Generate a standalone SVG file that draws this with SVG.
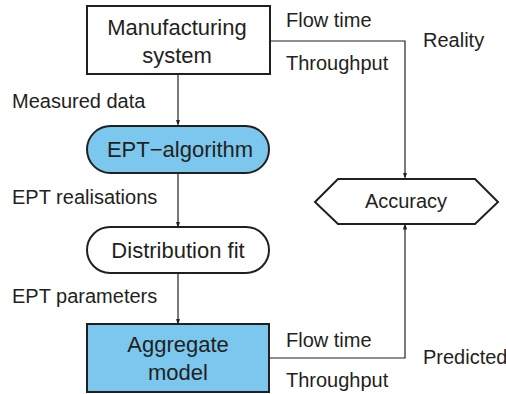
<svg xmlns="http://www.w3.org/2000/svg" width="506" height="394" viewBox="0 0 506 394">
<defs>
<style>
.node{stroke:#231F20;stroke-width:2;}
.plain{fill:#FFFFFF;}
.blue{fill:#7BC7EE;}
.t{font-family:"Liberation Sans",Arial,sans-serif;fill:#231F20;}
.main{font-size:22px;text-anchor:middle;}
.lab{font-size:20px;}
.conn{fill:none;stroke:#231F20;stroke-width:1.2;}
</style>
<marker id="ah" markerWidth="7" markerHeight="12" refX="6" refY="3.5" orient="auto" markerUnits="userSpaceOnUse" viewBox="0 0 12 7">
<path d="M0,0 L12,3.5 L0,7 Z" fill="#231F20"/>
</marker>
</defs>
<rect width="506" height="394" fill="#FFFFFF"/>
<g id="connectors">
<line class="conn" x1="178" y1="74" x2="178" y2="123" marker-end="url(#ah)"/>
<line class="conn" x1="178" y1="173" x2="178" y2="225" marker-end="url(#ah)"/>
<line class="conn" x1="178" y1="273" x2="178" y2="322" marker-end="url(#ah)"/>
<polyline class="conn" points="270,41 405,41 405,176" marker-end="url(#ah)"/>
<polyline class="conn" points="269,358 405,358 405,226" marker-end="url(#ah)"/>
</g>
<g id="labels">
<text class="t lab" x="12" y="108">Measured data</text>
<text class="t lab" x="12" y="204">EPT realisations</text>
<text class="t lab" x="12" y="303">EPT parameters</text>
<text class="t lab" x="286" y="27">Flow time</text>
<text class="t lab" x="286" y="70">Throughput</text>
<text class="t lab" x="423" y="47">Reality</text>
<text class="t lab" x="286" y="347">Flow time</text>
<text class="t lab" x="286" y="387">Throughput</text>
<text class="t lab" x="423" y="364">Predicted</text>
</g>
<g id="manufacturing-system">
<rect class="node plain" x="87" y="6" width="183" height="68"/>
<text class="t main" x="177" y="35">Manufacturing</text>
<text class="t main" x="177" y="63">system</text>
</g>
<g id="ept-algorithm">
<rect class="node blue" x="87" y="126" width="182" height="47" rx="23.5"/>
<text class="t main" x="180" y="157">EPT−algorithm</text>
</g>
<g id="distribution-fit">
<rect class="node plain" x="87" y="227" width="182" height="46" rx="23"/>
<text class="t main" x="178" y="258">Distribution fit</text>
</g>
<g id="aggregate-model">
<rect class="node blue" x="87" y="324" width="182" height="68"/>
<text class="t main" x="178" y="352">Aggregate</text>
<text class="t main" x="178" y="380">model</text>
</g>
<g id="accuracy">
<polygon class="node plain" points="315,202 338,179 475,179 498,202 475,224 338,224"/>
<text class="t" x="406" y="208" font-size="20" text-anchor="middle">Accuracy</text>
</g>
</svg>
